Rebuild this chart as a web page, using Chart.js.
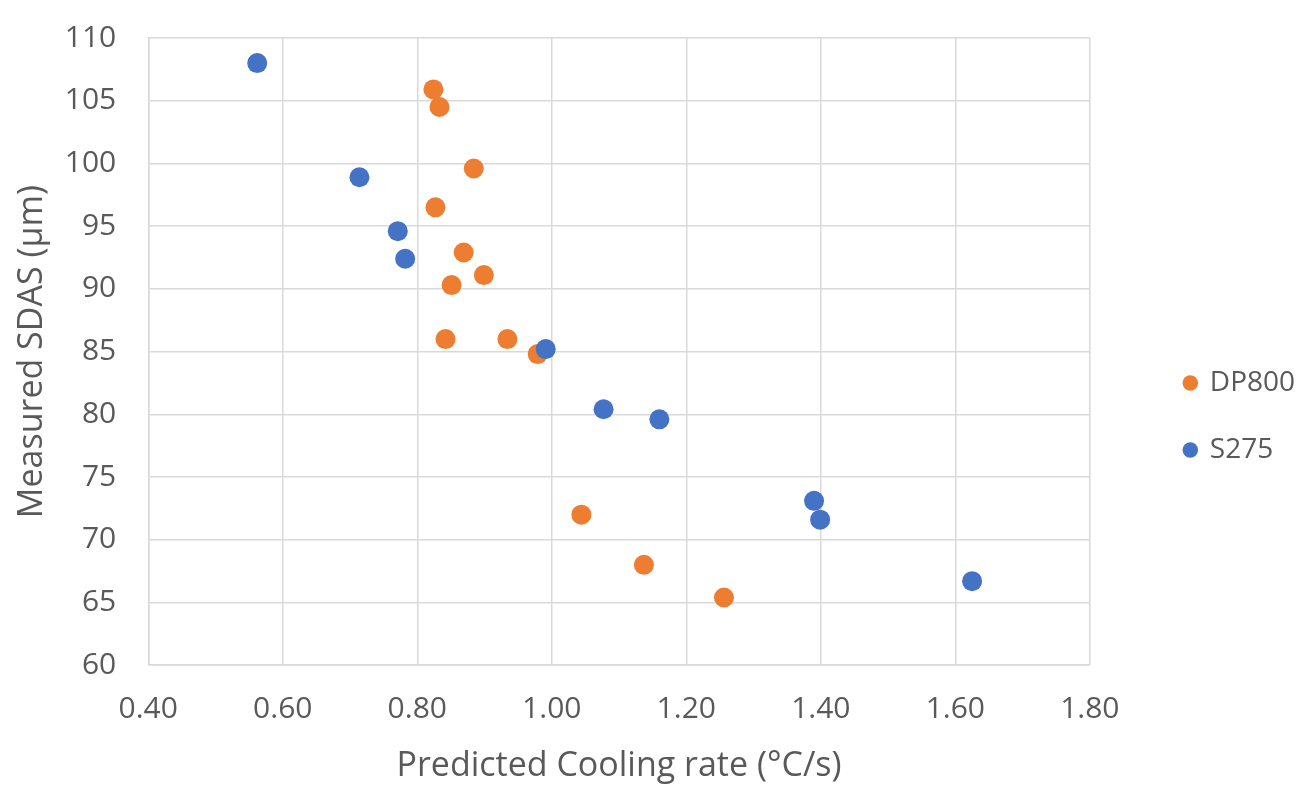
<!DOCTYPE html>
<html>
<head>
<meta charset="utf-8">
<script src="https://cdn.jsdelivr.net/npm/chart.js@4.4.1/dist/chart.umd.min.js"></script>
<style>
  html, body { margin: 0; padding: 0; background: #fff; }
  #wrap { width: 1298px; height: 789px; }
</style>
</head>
<body>
<div id="wrap"><canvas id="chart"></canvas></div>
<script>
// series values
const s275Rate = [0.562, 0.714, 0.771, 0.782, 0.991, 1.077, 1.160, 1.390, 1.399, 1.625];
const s275Sdas = [108.0, 98.9, 94.6, 92.4, 85.2, 80.4, 79.6, 73.1, 71.6, 66.7];

const dp800Rate = [0.824, 0.833, 0.884, 0.827, 0.869, 0.899, 0.851, 0.842, 0.934, 0.979, 1.044, 1.137, 1.256];
const dp800Sdas = [105.9, 104.5, 99.6, 96.5, 92.9, 91.1, 90.3, 86.0, 86.0, 84.8, 72.0, 68.0, 65.4];

const seriesNames = ['S275', 'DP800'];
const xTitle = 'Predicted Cooling rate (°C/s)';
const yTitle = 'Measured SDAS (µm)';

const textCol = '#595959';
const gridCol = '#d9d9d9';
const fontFam = "'Open Sans', 'Noto Sans', sans-serif";

const toPts = (xs, ys) => xs.map((x, i) => ({ x: x, y: ys[i] }));

// push the legend away from the plot, like excel does
const LEGEND_GAP = 49;    // extra width reserved for the legend
const LEGEND_SHIFT = 56;  // how far the items move right inside it
const LEGEND_DROP = 22;
const legendShift = {
  id: 'legendShift',
  beforeInit(chart) {
    const fit = chart.legend.fit;
    chart.legend.fit = function () {
      fit.bind(chart.legend)();
      this.width += LEGEND_GAP;
    };
  },
  afterLayout(chart) {
    const lg = chart.legend;
    lg.left += LEGEND_SHIFT;
    lg.right += LEGEND_SHIFT;
    lg.top += LEGEND_DROP;
    lg.bottom += LEGEND_DROP;
  }
};

const ctx = document.getElementById('chart').getContext('2d');
new Chart(ctx, {
  type: 'scatter',
  data: {
    datasets: [
      {
        label: seriesNames[0],
        data: toPts(s275Rate, s275Sdas),
        backgroundColor: '#4472C4',
        borderColor: '#4472C4',
        pointRadius: 10,
        pointHoverRadius: 10,
        borderWidth: 0
      },
      {
        label: seriesNames[1],
        data: toPts(dp800Rate, dp800Sdas),
        backgroundColor: '#ED7D31',
        borderColor: '#ED7D31',
        pointRadius: 10,
        pointHoverRadius: 10,
        borderWidth: 0
      }
    ]
  },
  options: {
    animation: false,
    responsive: true,
    maintainAspectRatio: false,
    layout: { padding: { left: 6, top: 2, right: 0, bottom: 2 } },
    plugins: {
      tooltip: { enabled: false },
      legend: {
        position: 'right',
        reverse: true,
        labels: {
          usePointStyle: true,
          pointStyle: 'circle',
          boxWidth: 11,
          boxHeight: 11,
          padding: 39,
          color: textCol,
          font: { family: fontFam, size: 28 }
        }
      }
    },
    scales: {
      x: {
        type: 'linear',
        min: 0.4,
        max: 1.8,
        grid: { color: gridCol, lineWidth: 1.5, drawTicks: false },
        border: { color: gridCol, width: 1.5 },
        // chart.js counts tick padding twice when sizing, take one back
        afterFit: s => { s.height -= 26; },
        ticks: {
          stepSize: 0.2,
          padding: 26,
          maxRotation: 0,
          color: textCol,
          font: { family: fontFam, size: 30 },
          callback: v => v.toFixed(2)
        },
        title: {
          display: true,
          text: xTitle,
          color: textCol,
          padding: { top: 19, bottom: 0 },
          font: { family: fontFam, size: 34 }
        }
      },
      y: {
        type: 'linear',
        min: 60,
        max: 110,
        grid: { color: gridCol, lineWidth: 1.5, drawTicks: false },
        border: { color: gridCol, width: 1.5 },
        afterFit: s => { s.width -= 34; s.paddingTop = 38; },
        ticks: {
          stepSize: 5,
          padding: 32,
          color: textCol,
          font: { family: fontFam, size: 30 }
        },
        title: {
          display: true,
          text: yTitle,
          color: textCol,
          padding: { top: 6, bottom: 14 },
          font: { family: fontFam, size: 34 }
        }
      }
    }
  },
  plugins: [legendShift]
});
</script>
</body>
</html>
